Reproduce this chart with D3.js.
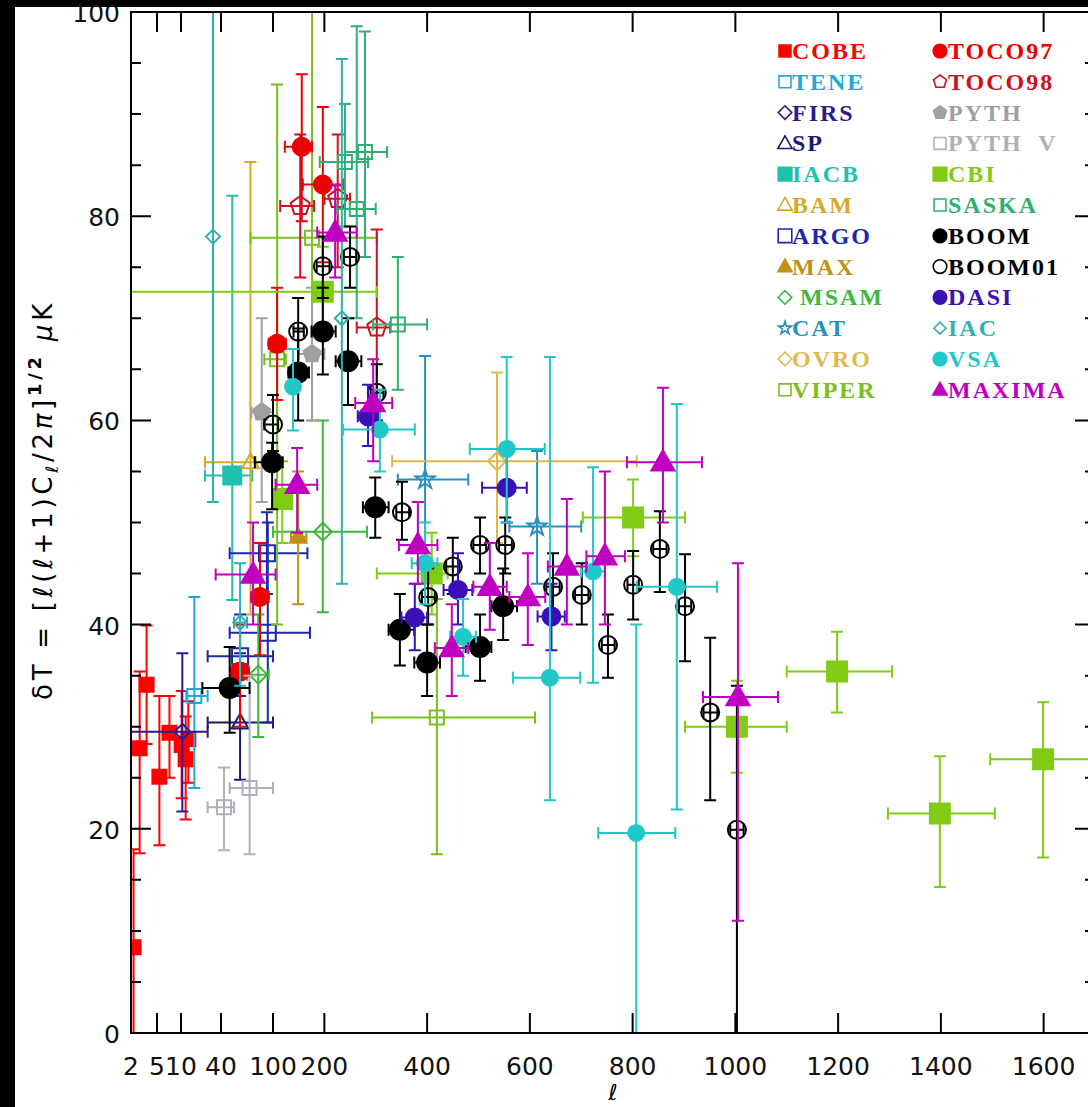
<!DOCTYPE html>
<html><head><meta charset="utf-8">
<script src="https://cdn.jsdelivr.net/npm/d3@7"></script>
<style>html,body{margin:0;padding:0;background:#000;} svg{display:block}</style>
</head><body>
<svg id="c" width="1088" height="1107"></svg>
<script>
// ---------------- DATA ----------------
// tick values / labels
const xTicks = [2, 5, 10, 40, 100, 200, 400, 600, 800, 1000, 1200, 1400, 1600];
const xTickLabels = ["2", "5", "10", "40", "100", "200", "400", "600", "800", "1000", "1200", "1400", "1600"];
const yTicks = [0, 20, 40, 60, 80, 100];
const yMinorTicks = [5, 10, 15, 25, 30, 35, 45, 50, 55, 65, 70, 75, 85, 90, 95];

// each row: [l, lMin, lMax, dT, dTlow, dThigh]
const cobe = [[2.3,2.3,2.3,8.4,0,18],[3,3,3,27.9,17.6,35.4],[3.8,3.8,3.8,34.1,28.3,39.9],[5.5,5.5,5.5,25.1,18.4,33],
  [7.6,7.6,7.6,29.4,25,33],[10.5,10.5,10.5,28.2,23,33.5],[13.5,13.5,13.5,26.8,20.9,31],[15.5,15.5,15.5,28.8,24.5,32.5]];
const tene = [[20,14,30,33,24,42.7]];
const firs = [[11,2,30,29.5,21.7,37.2]];
const sp = [[62,30,100,30.4,24.8,37.2]];
const iacb = [[53,28,76,54.6,42.4,82]];
const bam = [[74,28,80,55.9,41,85.3]];
const argo = [[94,50,172,39.2,30.4,50],[62,30,100,36.9,33,41],[93,50,167,47,43,51]];
const maxExp = [[149,135,165,48.6,42,55]];
const msam = [[197,100,283,49.1,41.2,60],[83,70,95,35.1,29,41]];
const cat = [[396,343,480,54.2,47,66.3],[614,560,700,49.6,44,57]];
const ovro = [[536,332,808,56,48,64.7]];
const viper = [[419,293,610,30.9,17.5,42.5],[176,74,302,77.9,60,105],[108,90,125,66,40,92.9]];
const toco97 = [[156,123,176,86.8,79.5,93.9],[197,158,236,83.1,75.5,90.7],[108,95,125,67.5,62,73],[85,75,95,42.7,37,48],[62,52,72,35.4,30,40]];
const toco98 = [[153,114,180,81,74,88],[226,200,250,81.7,75,88],[302,263,328,69.1,63,78.7]];
const pyth = [[87,75,100,60.8,52,70],[176,150,200,66.5,60,73]];
const pythV = [[43.5,30,55,22.1,17.9,26],[73,50,100,24,17.5,35]];
const cbi = [[197,2,302,72.6,68,77],[409,302,440,45,41,49],[118,105,130,52.3,48,56],[801,703,902,50.5,46.7,54.2],
  [1003,902,1100,30,25.5,34.5],[1198,1100,1305,35.4,31.4,39.3],[1398,1297,1505,21.5,14.3,27.1],[1599,1496,1700,26.8,17.2,32.4]];
const saska = [[240,191,285,85.3,79,91],[279,240,322,86.3,76,98.1],[263,225,300,80.7,70,98.6],[343,295,400,69.4,63,76]];
const boom = [[50,26,73,33.8,29.4,37.8],[99,79,119,55.9,51.3,57.8],[149,130,170,64.7,60,69],[197,175,222,68.7,64.5,73],
  [246,222,272,65.8,61.5,70],[299,275,325,51.5,48.5,54.4],[347,325,375,39.5,36,43],[400,375,425,36.3,33,40],
  [503,475,525,37.8,34.5,41],[548,525,575,41.8,38.5,45.5]];
const boom01 = [[100,90,110,59.6,57,62.5],[149,140,160,68.7,65.5,72],[197,185,210,75.1,72,78],[250,238,262,76,73,79],
  [302,290,315,62.7,60,65.5],[351,340,365,51,48.3,54],[402,390,415,42.7,40,45.5],[450,437,463,45.7,43,48.5],
  [503,490,515,47.8,45,50.5],[552,540,565,47.8,45,50.5],[645,632,658,43.7,40.5,47],[701,688,714,42.9,40,46],
  [752,740,765,38,34.8,41],[801,790,812,43.9,40.5,47.2],[853,840,866,47.4,43.2,51.1],[902,890,914,41.8,36.4,46.9],
  [951,938,965,31.4,22.8,38.7],[1003,990,1016,19.9,0,34]];
const dasi = [[285,265,305,60.4,57.5,63.5],[376,350,400,40.7,37.5,44],[460,432,488,43.4,40,47],[555,507,594,53.4,50,57],[642,615,668,40.8,37.5,44]];
const iac = [[62,55,70,40.2,34,46],[34,34,34,78,52,110],[234,234,234,70,44,95.4]];
const vsa = [[139,139,139,63.3,59,67],[308,236,376,59.1,55,63],[396,370,420,46,42,50],[470,445,495,38.8,35,42.5],
  [555,483,629,57.2,50,66.2],[639,567,698,34.8,22.8,66.2],[723,700,746,45.2,34.3,55.4],[886,808,964,43.7,21.9,61.6],[807,733,883,19.6,0,40]];
const maxima = [[77,36,105,44.9,40,50],[147,105,186,53.7,49,57.3],[221,186,263,78.4,74,83],[295,260,332,61.7,56,66],
  [382,345,420,47.8,44,52],[448,415,480,37.7,33,42],[522,490,555,43.7,39.5,48],[596,560,630,42.7,38,47],
  [672,635,710,45.7,40,52.3],[746,710,785,46.7,40,55],[859,789,935,55.9,50,63.2],[1005,937,1083,32.9,11,46]];

// ---------------- STYLE TABLE ----------------
const experiments = [
  {name:"COBE",   data:cobe,   color:"#ff0000", shape:"square",   fill:true,  r:7},
  {name:"TENE",   data:tene,   color:"#22a8d8", shape:"square",   fill:false, r:7},
  {name:"FIRS",   data:firs,   color:"#2a1c8c", shape:"diamond",  fill:false, r:8},
  {name:"SP",     data:sp,     color:"#1a1a70", shape:"triangle", fill:false, r:8},
  {name:"IACB",   data:iacb,   color:"#20c0b0", shape:"square",   fill:true,  r:9},
  {name:"BAM",    data:bam,    color:"#d8a828", shape:"triangle", fill:false, r:8},
  {name:"ARGO",   data:argo,   color:"#1c28b0", shape:"square",   fill:false, r:8},
  {name:"MAX",    data:maxExp, color:"#c09018", shape:"triangle", fill:true,  r:8},
  {name:" MSAM",  data:msam,   color:"#3cb83c", shape:"diamond",  fill:false, r:9},
  {name:"CAT",    data:cat,    color:"#2890c0", shape:"star",     fill:false, r:10},
  {name:"OVRO",   data:ovro,   color:"#e0b850", shape:"diamond",  fill:false, r:9},
  {name:"VIPER",  data:viper,  color:"#78c020", shape:"square",   fill:false, r:7},
  {name:"TOCO97", data:toco97, color:"#ee0000", shape:"circle",   fill:true,  r:9},
  {name:"TOCO98", data:toco98, color:"#d01020", shape:"pentagon", fill:false, r:10},
  {name:"PYTH",   data:pyth,   color:"#a0a0a0", shape:"pentagon", fill:true,  r:9},
  {name:"PYTH  V",data:pythV,  color:"#b0b0b8", shape:"square",   fill:false, r:7},
  {name:"CBI",    data:cbi,    color:"#80cc14", shape:"square",   fill:true,  r:10},
  {name:"SASKA",  data:saska,  color:"#30b070", shape:"square",   fill:false, r:7},
  {name:"BOOM",   data:boom,   color:"#000000", shape:"circle",   fill:true,  r:10},
  {name:"BOOM01", data:boom01, color:"#000000", shape:"circle",   fill:false, r:9},
  {name:"DASI",   data:dasi,   color:"#3a10b8", shape:"circle",   fill:true,  r:9},
  {name:"IAC",    data:iac,    color:"#30b0b0", shape:"diamond",  fill:false, r:7},
  {name:"VSA",    data:vsa,    color:"#20c8c8", shape:"circle",   fill:true,  r:8},
  {name:"MAXIMA", data:maxima, color:"#c000c0", shape:"triangle", fill:true,  r:11}
];

// ---------------- CHART ----------------
const W = 1088, H = 1107;
const svg = d3.select("#c");
svg.append("rect").attr("x", 15).attr("y", 7).attr("width", W - 15).attr("height", H - 7).attr("fill", "#fff");

const x = d3.scaleLinear().domain([2, 5, 10, 40, 100, 1700]).range([131, 157, 181, 221, 273, 1095]);
const y = d3.scaleLinear().domain([0, 100]).range([1033, 12]);
const X0 = x.range()[0], X1 = x.range()[x.range().length - 1];
const Y0 = y(0), Y1 = y(100);

svg.append("defs").append("clipPath").attr("id", "plot")
  .append("rect").attr("x", X0).attr("y", Y1).attr("width", X1 - X0).attr("height", Y0 - Y1);

function shapePath(kind, s) {
  switch (kind) {
    case "square": return `M${-s},${-s}H${s}V${s}H${-s}Z`;
    case "diamond": return `M0,${-s}L${s},0L0,${s}L${-s},0Z`;
    case "triangle": return `M0,${-s * 1.1}L${s * 1.05},${s * 0.75}L${-s * 1.05},${s * 0.75}Z`;
    case "circle": return d3.symbol(d3.symbolCircle, Math.PI * s * s)();
    case "star": return d3.symbol(d3.symbolStar, s * s / 0.8908)();
    case "pentagon": {
      const pts = d3.range(5).map(i => { const a = -Math.PI / 2 + i * 2 * Math.PI / 5; return [s * Math.cos(a), s * Math.sin(a)]; });
      return d3.line().curve(d3.curveLinearClosed)(pts);
    }
  }
}

const plotG = svg.append("g").attr("clip-path", "url(#plot)");
const cap = 6;
experiments.forEach(e => {
  const g = plotG.append("g");
  const eb = g.append("g").attr("stroke", e.color).attr("stroke-width", 2).attr("fill", "none");
  e.data.forEach(d => {
    const [l, l0, l1, v, lo, hi] = d;
    const px = x(l), py = y(v);
    let p = `M${px},${y(lo)}V${y(hi)}M${px - cap},${y(lo)}H${px + cap}M${px - cap},${y(hi)}H${px + cap}`;
    if (l1 > l0) p += `M${x(l0)},${py}H${x(l1)}M${x(l0)},${py - cap}V${py + cap}M${x(l1)},${py - cap}V${py + cap}`;
    eb.append("path").attr("d", p);
  });
  g.selectAll("path.m").data(e.data).join("path").attr("class", "m")
    .attr("transform", d => `translate(${x(d[0])},${y(d[3])})`)
    .attr("d", shapePath(e.shape, e.r))
    .attr("fill", e.fill ? e.color : "none")
    .attr("stroke", e.color).attr("stroke-width", 2);
});

// axes frame
const ax = svg.append("g").attr("stroke", "#000").attr("stroke-width", 2).attr("fill", "none");
ax.append("rect").attr("x", X0).attr("y", Y1).attr("width", X1 - X0).attr("height", Y0 - Y1);
xTicks.forEach(t => {
  ax.append("path").attr("d", `M${x(t)},${Y0}V${Y0 - 20}M${x(t)},${Y1}V${Y1 + 20}`);
});
yTicks.forEach(t => {
  ax.append("path").attr("d", `M${X0},${y(t)}H${X0 + 20}M${X1},${y(t)}H${X1 - 20}`);
});
yMinorTicks.forEach(t => {
  ax.append("path").attr("d", `M${X0},${y(t)}H${X0 + 10}M${X1},${y(t)}H${X1 - 10}`);
});

const tickFont = "'DejaVu Sans', sans-serif";
svg.append("g").selectAll("text").data(xTicks).join("text")
  .attr("x", d => x(d)).attr("y", 1075).attr("text-anchor", "middle")
  .attr("font-family", tickFont).attr("font-size", 25).attr("fill", "#111")
  .text((d, i) => xTickLabels[i]);
svg.append("g").selectAll("text").data(yTicks).join("text")
  .attr("x", 120).attr("y", d => y(d) + 10).attr("text-anchor", "end")
  .attr("font-family", tickFont).attr("font-size", 25).attr("fill", "#111")
  .text(d => d);

// x label
svg.append("text").attr("x", 613).attr("y", 1100).attr("text-anchor", "middle")
  .attr("font-family", tickFont).attr("font-size", 22).attr("font-style", "italic").text("ℓ");

// y label
const yl = svg.append("text").attr("transform", "translate(52,500) rotate(-90)")
  .attr("text-anchor", "middle").attr("font-family", tickFont).attr("font-size", 26).attr("fill", "#000");
yl.append("tspan").text("δT = [");
yl.append("tspan").attr("font-style", "italic").text("ℓ");
yl.append("tspan").text("(");
yl.append("tspan").attr("font-style", "italic").text("ℓ");
yl.append("tspan").text("+1)C");
yl.append("tspan").attr("font-style", "italic").attr("font-size", 17).attr("dy", 6).text("ℓ");
yl.append("tspan").attr("dy", -6).text("/2");
yl.append("tspan").attr("font-style", "italic").text("π");
yl.append("tspan").text("]");
yl.append("tspan").attr("font-size", 18).attr("font-weight", "bold").attr("dy", -11).text("1/2");
yl.append("tspan").attr("dy", 11).text("\u00a0");
yl.append("tspan").attr("font-style", "italic").text("μ");
yl.append("tspan").text("K");
{
  const len = yl.node().getComputedTextLength();
  const n = yl.text().length;
  yl.attr("letter-spacing", ((400 - len) / n).toFixed(2));
}

// legend
const lg = svg.append("g");
experiments.forEach((e, i) => {
  const col = i < 12 ? 0 : 1, row = i % 12;
  const ly = 51 + row * 30.8;
  const mx = col === 0 ? 785 : 940;
  const tx = col === 0 ? 792 : 948;
  lg.append("path").attr("transform", `translate(${mx},${ly})`)
    .attr("d", shapePath(e.shape, Math.min(e.r, 8) * 0.85))
    .attr("fill", e.fill ? e.color : "none").attr("stroke", e.color).attr("stroke-width", 1.6);
  lg.append("text").attr("x", tx).attr("y", ly + 8)
    .attr("font-family", "'Liberation Serif', 'Times New Roman', serif").attr("font-size", 24)
    .attr("font-weight", "bold").attr("letter-spacing", 2).attr("fill", e.color)
    .style("white-space", "pre").text(e.name);
});
</script>
</body></html>
